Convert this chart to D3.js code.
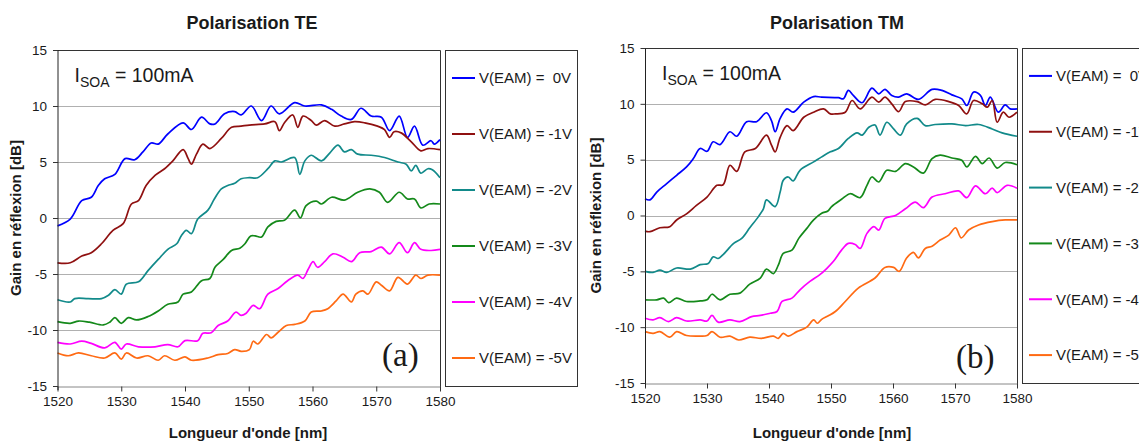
<!DOCTYPE html>
<html lang="fr">
<head>
<meta charset="utf-8">
<script src="https://d3js.org/d3.v7.min.js"></script>
<style>
  body { margin: 0; background: #fff; }
  svg { display: block; }
  text { font-family: "Liberation Sans", Arial, sans-serif; fill: #1a1a1a; }
  .title { font-size: 18px; font-weight: bold; }
  .axis-title { font-size: 15px; font-weight: bold; }
  .tick text { font-size: 13.5px; fill: #1a1a1a; }
  .legend text { font-size: 15px; white-space: pre; }
  .tag { font-family: "Liberation Serif", "Times New Roman", serif; font-size: 33px; }
  .curve { fill: none; stroke-width: 1.7; stroke-linejoin: round; }
</style>
</head>
<body>
<svg id="chart" width="1139" height="441"></svg>
<script>
// wavelength [nm], gain [dB]
const legendLabels = ["V(EAM) =  0V", "V(EAM) = -1V", "V(EAM) = -2V", "V(EAM) = -3V", "V(EAM) = -4V", "V(EAM) = -5V"];
const colors = ["#0000ff", "#8f1010", "#128a8a", "#14891a", "#ff00ff", "#ff6a13"];
const xTicks = [1520, 1530, 1540, 1550, 1560, 1570, 1580];
const yTicks = [-15, -10, -5, 0, 5, 10, 15];

// Polarisation TE
const te0 = [[1520,-0.7],[1522,-0.1],[1523.8,1.55],[1525.3,1.85],[1526.4,2.9],[1527.4,3.5],[1529,3.9],[1530.6,5.3],[1532.1,5.2],[1533.4,5.9],[1534.7,6.7],[1535.8,6.6],[1537.3,7.5],[1539.7,8.5],[1541,7.9],[1542.6,9.0],[1543.9,8.4],[1544.7,8.4],[1546.2,9.3],[1547.8,9.5],[1548.8,9.2],[1550.4,10.0],[1552,8.7],[1553.5,10.0],[1554.8,9.3],[1557.2,10.3],[1558.8,10.0],[1561.4,10.1],[1563,9.7],[1564.5,9.1],[1566.1,8.8],[1567.6,9.8],[1569.2,9.1],[1570.8,9.0],[1572.1,7.8],[1573.6,9.1],[1574.9,7.2],[1576,8.2],[1577.3,6.5],[1578.6,6.9],[1579.1,6.6],[1580,7.0]];
const te1 = [[1520,-4.0],[1522,-4.0],[1523.8,-3.4],[1525.3,-3.1],[1526.9,-2.3],[1528.7,-1.1],[1530.3,-0.5],[1531.6,1.25],[1532.7,1.55],[1533.9,2.9],[1535.3,3.8],[1536.8,4.4],[1538.1,5.1],[1539.7,6.1],[1540.5,5.3],[1541,4.8],[1541.8,5.7],[1542.8,6.6],[1543.9,6.2],[1545.7,7.1],[1547.3,8.1],[1548.8,8.2],[1550.1,8.3],[1552.5,8.4],[1554.1,8.6],[1554.8,7.8],[1555.6,8.5],[1556.9,9.2],[1557.7,8.1],[1558.5,9.1],[1559.8,8.7],[1560.6,8.3],[1561.9,8.7],[1563.5,8.2],[1565,8.4],[1566.6,8.6],[1568.2,8.5],[1570.2,8.2],[1571.3,7.9],[1572.1,7.2],[1572.8,7.7],[1573.9,7.6],[1575.5,6.8],[1577,6.0],[1578.1,6.2],[1580,6.1]];
const te2 = [[1520,-7.3],[1522,-7.5],[1522.7,-7.2],[1524.8,-7.2],[1526.9,-7.2],[1528,-6.9],[1529,-6.4],[1530,-6.8],[1530.8,-5.9],[1532.7,-5.7],[1534.2,-4.7],[1535.8,-3.7],[1537.3,-2.8],[1538.7,-2.3],[1539.4,-1.6],[1540.2,-1.1],[1541,-1.4],[1542,-0.1],[1543.6,0.7],[1544.6,1.7],[1545.7,2.6],[1546.7,2.9],[1547.8,3.1],[1548.8,3.5],[1550.1,3.6],[1551.4,3.6],[1553,4.4],[1554.1,5.1],[1555.1,5.0],[1557.2,5.4],[1558,3.9],[1558.8,5.1],[1559.8,5.6],[1561.4,5.1],[1562.7,5.8],[1564,6.5],[1565,5.9],[1566.1,6.1],[1567.1,5.7],[1569.2,5.6],[1571.3,5.4],[1573.4,5.0],[1574.7,4.8],[1575.5,4.2],[1576.2,4.7],[1577,4.0],[1578.1,4.4],[1578.8,4.3],[1580,3.6]];
const te3 = [[1520,-9.25],[1522,-9.4],[1523.3,-9.2],[1525,-9.3],[1527.2,-9.55],[1528.2,-9.3],[1529,-8.9],[1530,-9.4],[1531.1,-8.9],[1532.4,-9.1],[1534.2,-8.8],[1535.8,-8.3],[1537.3,-7.7],[1538.9,-7.5],[1539.7,-6.8],[1541,-6.6],[1542.6,-5.6],[1543.9,-5.4],[1544.7,-4.4],[1546,-3.7],[1547.3,-2.9],[1548.6,-2.7],[1549.4,-2.3],[1550.3,-1.6],[1551,-1.6],[1552,-1.7],[1553,-0.8],[1554.3,-0.3],[1555.6,-0.2],[1557.2,0.7],[1558.1,0.0],[1559,1.1],[1560.6,1.5],[1561.4,1.25],[1563,1.85],[1565,1.6],[1567.1,2.3],[1569,2.6],[1570.5,2.3],[1571.8,1.4],[1573.6,2.3],[1574.9,1.7],[1576,1.7],[1577,0.9],[1578.3,1.25],[1580,1.25]];
const te4 = [[1520,-11.1],[1522,-11.25],[1523.8,-11.0],[1525.3,-11.2],[1527.4,-11.6],[1529,-11.1],[1530,-11.7],[1530.8,-11.25],[1532.7,-11.5],[1535.3,-11.5],[1537.3,-11.3],[1538.9,-11.5],[1540,-10.95],[1542,-10.95],[1542.8,-10.3],[1544.1,-10.25],[1545.2,-9.6],[1546.7,-9.2],[1548,-8.4],[1548.8,-8.7],[1549.6,-8.5],[1550.7,-7.8],[1551.7,-8.1],[1553,-6.8],[1554.6,-6.3],[1556.1,-5.6],[1557.7,-5.1],[1558.5,-5.4],[1559.3,-4.6],[1560.1,-3.9],[1560.8,-4.4],[1561.9,-3.9],[1563.2,-3.2],[1564.8,-3.5],[1566.1,-3.9],[1567.4,-3.1],[1569.2,-3.0],[1570.8,-2.6],[1572.1,-3.2],[1573.6,-2.2],[1574.9,-3.1],[1576,-2.2],[1577,-2.8],[1578.6,-2.9],[1580,-2.8]];
const te5 = [[1520,-12.05],[1521.7,-12.3],[1523.3,-12.05],[1525.3,-12.3],[1527.4,-12.5],[1529,-12.05],[1530,-12.6],[1530.8,-12.05],[1532.4,-12.5],[1534.2,-12.3],[1535.8,-12.7],[1536.8,-12.3],[1538.4,-12.7],[1540,-12.4],[1541,-12.7],[1543.6,-12.5],[1545.2,-12.2],[1546.7,-12.1],[1547.8,-11.75],[1548.8,-11.9],[1550.1,-11.75],[1550.7,-11.0],[1551.4,-11.25],[1552.8,-10.4],[1553.5,-10.7],[1554.6,-10.2],[1555.9,-9.6],[1557.2,-9.5],[1558.8,-9.2],[1559.8,-8.4],[1561.4,-8.3],[1562.4,-8.1],[1563.7,-7.4],[1564.8,-6.8],[1566.1,-7.5],[1566.8,-6.8],[1567.9,-6.5],[1568.7,-6.8],[1570,-5.7],[1570.8,-6.0],[1572.1,-6.5],[1573.4,-5.3],[1574.9,-5.9],[1576.2,-5.1],[1577,-5.4],[1578.1,-5.1],[1580,-5.1]];

// Polarisation TM
const tm0 = [[1520,1.5],[1520.8,1.4],[1521.9,2.1],[1523.5,2.85],[1525.1,3.6],[1526.7,4.35],[1527.8,5.1],[1528.9,6.0],[1530,5.75],[1531,6.6],[1532.1,6.35],[1533.7,7.5],[1534.8,7.1],[1536.4,8.4],[1538,8.4],[1539.6,9.2],[1540.4,8.5],[1541,7.5],[1541.8,8.7],[1542.9,9.55],[1543.9,9.25],[1545.6,10.15],[1547.2,10.65],[1548.5,10.6],[1551.2,10.55],[1552,10.45],[1552.8,11.2],[1553.6,10.75],[1555,10.1],[1556.6,11.4],[1557.7,10.9],[1558.7,11.3],[1559.8,10.75],[1560.9,10.6],[1562.2,10.9],[1564.1,10.4],[1566.3,11.3],[1567.9,11.2],[1569.5,10.8],[1571.1,10.45],[1571.9,9.85],[1573,11.05],[1574.1,10.75],[1574.9,9.85],[1575.7,10.6],[1577,9.25],[1578.1,9.9],[1578.9,9.55],[1580,9.55]];
const tm1 = [[1520,-1.4],[1520.8,-1.45],[1522.4,-1.1],[1524,-1.0],[1525.1,-0.4],[1526.7,0.15],[1528.3,0.9],[1530,1.65],[1531.6,2.7],[1532.6,2.75],[1533.7,4.5],[1534.8,3.95],[1536.1,5.7],[1537.8,6.0],[1539.6,7.2],[1540.4,6.3],[1541,5.7],[1541.8,7.0],[1542.9,8.05],[1543.9,7.6],[1545.6,8.8],[1547.2,9.25],[1548.8,9.55],[1549.9,9.1],[1550.7,9.1],[1552.3,9.25],[1553.4,10.3],[1554.7,9.55],[1556.6,10.6],[1557.7,10.15],[1558.7,10.6],[1559.8,10.0],[1560.9,9.3],[1562,10.2],[1563.9,10.2],[1565.2,9.9],[1566.8,10.4],[1569,10.2],[1570.6,9.85],[1571.9,9.1],[1573,10.3],[1574.4,10.0],[1575.2,9.7],[1576,10.3],[1576.8,8.35],[1577.8,9.25],[1578.7,8.8],[1580,9.25]];
const tm2 = [[1520,-5.0],[1521.3,-5.1],[1522.4,-4.9],[1523.5,-5.1],[1525.1,-4.7],[1527.3,-4.8],[1528.9,-4.4],[1530.2,-4.3],[1531,-3.7],[1531.8,-3.85],[1532.6,-3.5],[1534.3,-2.5],[1535.6,-2.05],[1536.9,-1.1],[1538.3,-0.1],[1539.1,0.6],[1539.6,1.4],[1541,0.8],[1541.8,2.1],[1542.3,3.15],[1543.1,3.45],[1543.9,3.1],[1545,4.05],[1547.2,4.8],[1548.5,5.25],[1549.9,5.7],[1551.2,6.0],[1552.8,6.9],[1554.2,7.4],[1555,7.2],[1556.1,7.9],[1557.1,8.1],[1557.9,7.2],[1559,8.35],[1560.1,7.75],[1561.2,7.2],[1562.2,8.2],[1563.9,8.7],[1565.2,8.05],[1566.8,8.15],[1569.5,8.2],[1571.7,8.05],[1573.8,8.15],[1576,7.75],[1577.6,7.4],[1580,7.1]];
const tm3 = [[1520,-7.55],[1521.9,-7.55],[1523,-7.4],[1523.8,-7.8],[1525.1,-7.4],[1526.7,-7.7],[1528.9,-7.65],[1530,-7.55],[1530.8,-7.05],[1532.1,-7.55],[1533.7,-7.05],[1535.3,-6.95],[1536.9,-6.15],[1538.6,-5.6],[1539.6,-4.8],[1540.7,-5.2],[1541.5,-4.45],[1542.3,-3.4],[1543.7,-3.1],[1544.8,-2.05],[1546.1,-1.15],[1547.2,-0.4],[1548.5,0.2],[1549.5,0.4],[1550.1,0.8],[1551.7,1.45],[1553.1,1.95],[1554.7,1.6],[1555.8,2.7],[1556.6,3.45],[1557.7,3.0],[1559,4.05],[1560.4,3.95],[1562,4.65],[1563.3,4.35],[1564.9,3.8],[1566.3,5.1],[1567.6,5.4],[1569.5,5.15],[1571.1,4.95],[1571.9,4.35],[1573.3,5.3],[1574.4,4.65],[1575.5,5.15],[1576.8,4.25],[1578.1,4.75],[1580,4.55]];
const tm4 = [[1520,-9.2],[1521.3,-9.35],[1522.4,-9.15],[1523.8,-9.5],[1525.1,-9.15],[1526.7,-9.45],[1528.9,-9.35],[1530,-9.45],[1530.8,-8.95],[1531.8,-9.55],[1533.7,-9.35],[1535.3,-9.5],[1537.2,-9.05],[1538.6,-8.95],[1540.2,-8.75],[1541.3,-8.6],[1542.1,-7.7],[1543.7,-7.4],[1545,-6.65],[1546.6,-5.9],[1548.2,-5.3],[1549.3,-4.75],[1550.4,-4.1],[1551.7,-3.1],[1552.8,-2.5],[1553.9,-2.6],[1554.7,-2.95],[1555.8,-1.6],[1556.9,-1.0],[1557.7,-1.3],[1558.7,-0.25],[1560.4,0.0],[1562,0.6],[1563.6,1.2],[1564.9,0.7],[1566.3,1.65],[1568.4,1.95],[1570.6,2.2],[1571.9,1.6],[1573.3,2.65],[1574.9,1.95],[1576,2.45],[1576.8,2.05],[1578.4,2.7],[1580,2.45]];
const tm5 = [[1520,-10.4],[1521.3,-10.55],[1522.4,-10.4],[1524,-10.9],[1525.1,-10.4],[1526.7,-10.75],[1528.9,-10.8],[1530,-10.75],[1530.8,-10.4],[1532.1,-10.9],[1533.7,-10.8],[1535.1,-11.15],[1536.9,-10.9],[1538.8,-11.0],[1540.7,-10.8],[1541.5,-11.0],[1542.3,-10.55],[1543.1,-10.8],[1544.5,-10.4],[1546.1,-10.0],[1547.2,-9.35],[1547.8,-9.65],[1548.5,-9.3],[1549.5,-9.0],[1550.7,-8.6],[1552.3,-7.7],[1554.4,-6.5],[1557.1,-5.6],[1558.7,-4.65],[1560.1,-4.65],[1561,-5.0],[1562.2,-3.8],[1563.3,-3.3],[1564.1,-3.8],[1565.2,-2.95],[1566.3,-2.75],[1567.6,-2.2],[1569,-1.75],[1570.1,-1.1],[1571,-2.0],[1572.2,-1.3],[1573.8,-0.85],[1576,-0.55],[1578.1,-0.4],[1580,-0.4]];

const svg = d3.select("#chart");

function drawPanel(p) {
  var x = d3.scaleLinear().domain([1520, 1580]).range([p.left, p.right]);
  var y = d3.scaleLinear().domain([-15, 15]).range([p.bottom, p.top]);
  var g = svg.append("g");

  // gridlines
  g.selectAll(".grid").data([-10, -5, 0, 5, 10]).enter().append("line")
    .attr("x1", p.left).attr("x2", p.right)
    .attr("y1", d => Math.round(y(d)) + 0.5).attr("y2", d => Math.round(y(d)) + 0.5)
    .attr("stroke", "#b0b0b0").attr("stroke-width", 1.2);

  // frame top and right
  g.append("path")
    .attr("d", "M" + p.left + "," + (p.top + 0.5) + "H" + (p.right + 0.5) + "V" + (p.bottom + 4))
    .attr("fill", "none").attr("stroke", "#333").attr("stroke-width", 1);

  var line = d3.line()
    .x(d => x(d[0])).y(d => y(d[1]))
    .curve(d3.curveCatmullRom.alpha(0.5));

  p.series.forEach(function (s, i) {
    g.append("path").attr("class", "curve")
      .attr("d", line(s)).attr("stroke", colors[i]);
  });

  // axes
  var xAxis = g.append("g")
    .attr("transform", "translate(0," + (p.bottom + 0.5) + ")")
    .call(d3.axisBottom(x).tickValues(xTicks).tickSize(5).tickSizeOuter(0).tickPadding(5).tickFormat(d => String(d)));
  xAxis.select(".domain").attr("stroke", "#888");
  xAxis.selectAll(".tick line").attr("stroke", "#333");

  var yAxis = g.append("g")
    .attr("transform", "translate(" + (p.left + 0.5) + ",0)")
    .call(d3.axisLeft(y).tickValues(yTicks).tickSize(5).tickSizeOuter(0).tickPadding(6).tickFormat(d => String(d)));
  yAxis.select(".domain").attr("stroke", "#222").attr("d", "M0," + p.top + "V" + (p.bottom + 4));
  yAxis.selectAll(".tick line").attr("stroke", "#333");
  g.selectAll(".tick text").attr("font-family", null);

  // titles
  g.append("text").attr("class", "title")
    .attr("x", p.titleX).attr("y", 29).attr("text-anchor", "middle").text(p.title);
  g.append("text").attr("class", "axis-title")
    .attr("x", p.xTitleX).attr("y", 438).attr("text-anchor", "middle").text("Longueur d'onde [nm]");
  g.append("text").attr("class", "axis-title")
    .attr("transform", "translate(" + p.yTitleX + "," + ((p.top + p.bottom) / 2) + ") rotate(-90)")
    .attr("text-anchor", "middle").text("Gain en réflexion [dB]");

  // I_SOA note
  var note = g.append("text").attr("x", p.left + 17).attr("y", p.top + 32).style("font-size", "19.5px");
  note.append("tspan").text("I");
  note.append("tspan").attr("dy", 5).style("font-size", "14px").text("SOA");
  note.append("tspan").attr("dy", -5).text(" = 100mA");

  g.append("text").attr("class", "tag")
    .attr("x", p.tagX).attr("y", p.tagY).text(p.tag);

  // legend
  var lg = g.append("g").attr("class", "legend");
  var lh = p.bottom - p.top;
  lg.append("rect")
    .attr("x", p.legendX + 0.5).attr("y", p.top + 0.5)
    .attr("width", 132).attr("height", lh)
    .attr("fill", "#fff").attr("stroke", "#333");
  legendLabels.forEach(function (lab, i) {
    var ly = p.top + (i + 0.5) * lh / 6;
    lg.append("line")
      .attr("x1", p.legendX + 7).attr("x2", p.legendX + 30)
      .attr("y1", ly).attr("y2", ly)
      .attr("stroke", colors[i]).attr("stroke-width", 2);
    lg.append("text")
      .attr("x", p.legendX + 34).attr("y", ly).attr("dy", "0.36em")
      .text(lab);
  });
}

drawPanel({
  left: 57.5, right: 440, top: 50, bottom: 386,
  title: "Polarisation TE", titleX: 252, xTitleX: 248, yTitleX: 21,
  legendX: 445, tag: "(a)", tagX: 382, tagY: 366,
  series: [te0, te1, te2, te3, te4, te5]
});
drawPanel({
  left: 645, right: 1017, top: 48, bottom: 383,
  title: "Polarisation TM", titleX: 837, xTitleX: 832, yTitleX: 601,
  legendX: 1022, tag: "(b)", tagX: 956, tagY: 368,
  series: [tm0, tm1, tm2, tm3, tm4, tm5]
});
</script>
</body>
</html>
